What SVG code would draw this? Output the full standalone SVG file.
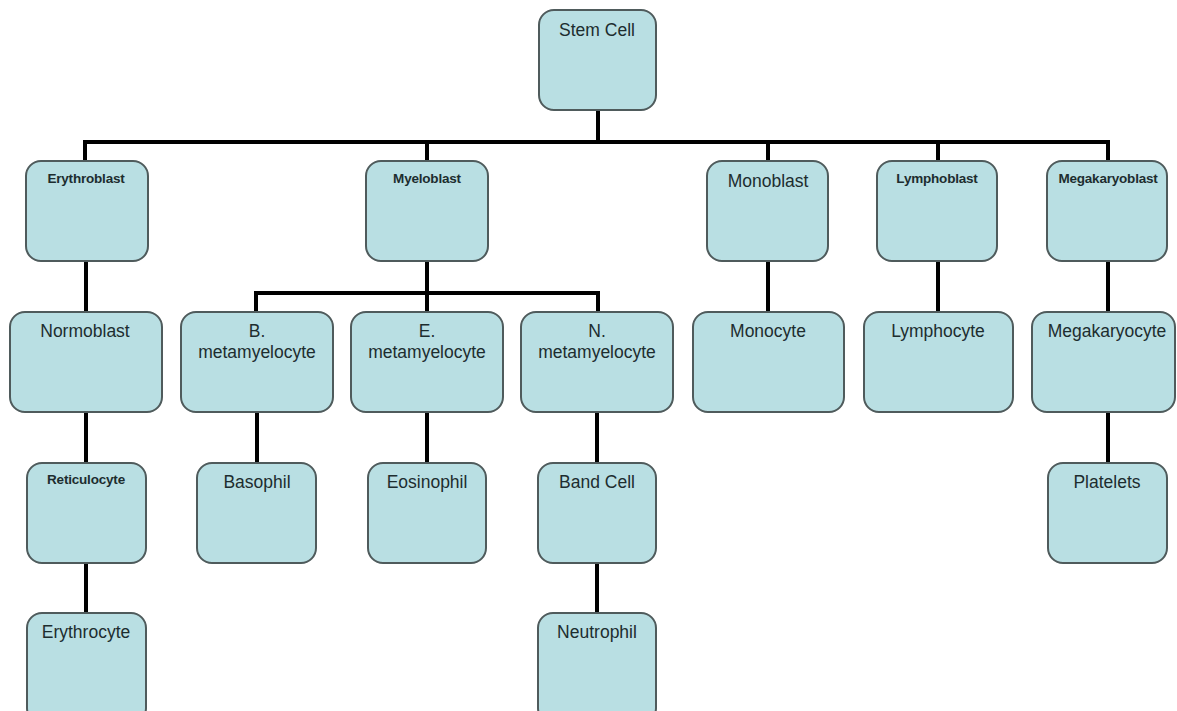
<svg xmlns="http://www.w3.org/2000/svg" width="1177" height="711" viewBox="0 0 1177 711">
<style>
.box{fill:#b9dfe3;stroke:#4f5b5c;stroke-width:2}
.t{font-family:"Liberation Sans",Arial,sans-serif;font-size:17.5px;fill:#1d2d2f;text-anchor:middle}
.s{font-family:"Liberation Sans",Arial,sans-serif;font-size:13.5px;font-weight:bold;fill:#1d2d2f;text-anchor:middle;letter-spacing:-0.2px}
.c{stroke:#000;stroke-width:4;fill:none;stroke-linecap:square}
</style>
<rect width="1177" height="711" fill="#fff"/>
<g id="connectors">
<path class="c" d="M598 110V142M85 142H1108M85 142V161M427 142V161M768 142V161M938 142V161M1108 142V161"/>
<path class="c" d="M86 261V312M86 412V463M86 563V613"/>
<path class="c" d="M427 261V293M256 293H598M256 293V312M427 293V312M598 293V312"/>
<path class="c" d="M257 412V463M427 412V463M597 412V463M597 563V613"/>
<path class="c" d="M768 261V312M938 261V312M1108 261V312M1108 412V463"/>
</g>
<g id="stem"><rect class="box" x="539" y="10" width="117" height="100" rx="15"/><text class="t" x="597" y="36">Stem Cell</text></g>
<g id="erythroblast"><rect class="box" x="26" y="161" width="122" height="100" rx="15"/><text class="s" x="86" y="183">Erythroblast</text></g>
<g id="myeloblast"><rect class="box" x="366" y="161" width="122" height="100" rx="15"/><text class="s" x="427" y="183">Myeloblast</text></g>
<g id="monoblast"><rect class="box" x="707" y="161" width="121" height="100" rx="15"/><text class="t" x="768" y="187">Monoblast</text></g>
<g id="lymphoblast"><rect class="box" x="877" y="161" width="120" height="100" rx="15"/><text class="s" x="937" y="183">Lymphoblast</text></g>
<g id="megakaryoblast"><rect class="box" x="1047" y="161" width="120" height="100" rx="15"/><text class="s" x="1108" y="183">Megakaryoblast</text></g>
<g id="normoblast"><rect class="box" x="10" y="312" width="152" height="100" rx="15"/><text class="t" x="85" y="337">Normoblast</text></g>
<g id="b-meta"><rect class="box" x="181" y="312" width="152" height="100" rx="15"/><text class="t" x="257" y="337">B.</text><text class="t" x="257" y="358">metamyelocyte</text></g>
<g id="e-meta"><rect class="box" x="351" y="312" width="152" height="100" rx="15"/><text class="t" x="427" y="337">E.</text><text class="t" x="427" y="358">metamyelocyte</text></g>
<g id="n-meta"><rect class="box" x="521" y="312" width="152" height="100" rx="15"/><text class="t" x="597" y="337">N.</text><text class="t" x="597" y="358">metamyelocyte</text></g>
<g id="monocyte"><rect class="box" x="693" y="312" width="151" height="100" rx="15"/><text class="t" x="768" y="337">Monocyte</text></g>
<g id="lymphocyte"><rect class="box" x="864" y="312" width="149" height="100" rx="15"/><text class="t" x="938" y="337">Lymphocyte</text></g>
<g id="megakaryocyte"><rect class="box" x="1032" y="312" width="143" height="100" rx="15"/><text class="t" x="1107" y="337">Megakaryocyte</text></g>
<g id="reticulocyte"><rect class="box" x="27" y="463" width="119" height="100" rx="15"/><text class="s" x="86" y="484">Reticulocyte</text></g>
<g id="basophil"><rect class="box" x="197" y="463" width="119" height="100" rx="15"/><text class="t" x="257" y="488">Basophil</text></g>
<g id="eosinophil"><rect class="box" x="368" y="463" width="118" height="100" rx="15"/><text class="t" x="427" y="488">Eosinophil</text></g>
<g id="bandcell"><rect class="box" x="538" y="463" width="118" height="100" rx="15"/><text class="t" x="597" y="488">Band Cell</text></g>
<g id="platelets"><rect class="box" x="1048" y="463" width="119" height="100" rx="15"/><text class="t" x="1107" y="488">Platelets</text></g>
<g id="erythrocyte"><rect class="box" x="27" y="613" width="119" height="110" rx="15"/><text class="t" x="86" y="638">Erythrocyte</text></g>
<g id="neutrophil"><rect class="box" x="538" y="613" width="118" height="110" rx="15"/><text class="t" x="597" y="638">Neutrophil</text></g>
</svg>
